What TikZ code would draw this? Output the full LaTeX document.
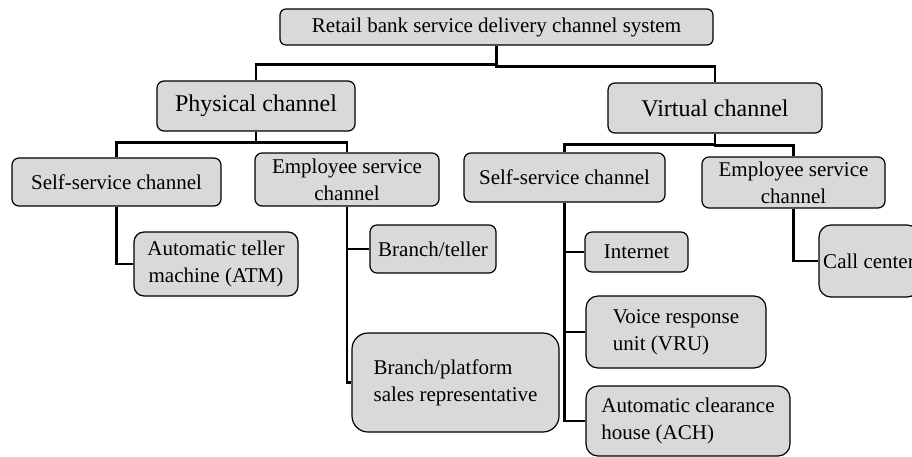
\documentclass[tikz,border=0pt]{standalone}
\usepackage{fontspec}
\setmainfont{Liberation Serif}
\usepackage{xcolor}
\usepackage{tikz}
\usetikzlibrary{positioning}

\definecolor{boxgray}{HTML}{D9D9D9}

\begin{document}
\begin{tikzpicture}[x=1pt,y=-1pt,
    every node/.style={draw=black,fill=boxgray,line width=1.2pt,rounded corners=7pt,
      inner sep=0pt,font=\fontsize{21}{27}\selectfont,align=center},
    box/.style 2 args={minimum width=#1pt,minimum height=#2pt},
    lbox/.style={align=left},
    link/.style={line width=2.6pt}]
    \useasboundingbox (0,0) rectangle (912,456);
    \clip (0,0) rectangle (912,456);
    % top levels
    \node[box={433}{36},rounded corners=6pt] (root) at (496.5,27) {Retail bank service delivery channel system};
    \node[box={198}{50},font=\fontsize{24}{28}\selectfont] (phys) at (256,106) {Physical channel};
    \node[box={214}{50},font=\fontsize{24}{28}\selectfont] (virt) at (715,108) {Virtual channel};
    % physical side
    \node[box={209}{48}] (pself) at (116.5,182) {Self-service channel};
    \node[box={184}{53}] (pemp) at (347,179.5) {Employee service\\channel};
    \node[box={164}{64},rounded corners=10pt] (atm) at (216,264) {Automatic teller\\machine (ATM)};
    \node[box={126}{48}] (teller) at (433,249) {Branch/teller};
    \node[box={207}{99},rounded corners=16pt,lbox] (platform) at (455.5,382.5) {Branch/platform\\sales representative};
    % virtual side
    \node[box={201}{49}] (vself) at (564.5,177.5) {Self-service channel};
    \node[box={183}{51}] (vemp) at (793.5,182.5) {Employee service\\channel};
    \node[box={103}{40}] (inet) at (636.5,252) {Internet};
    \node[box={180}{72},rounded corners=12pt,lbox] (vru) at (676,332) {Voice response\\unit (VRU)};
    \node[box={204}{70},rounded corners=12pt,lbox] (ach) at (688,421) {Automatic clearance\\house (ACH)};
    \node[box={100}{72},rounded corners=12pt] (call) at (869,261) {Call center};
    % connectors
    \draw[link] (root.south) -- ++(0,19) -| (phys.north);
    \draw[link] (root.south) -- ++(0,21) -| (virt.north);
    \draw[link] (phys.south) -- ++(0,11) -| (pself.north);
    \draw[link] (phys.south) -- ++(0,11) -| (pemp.north);
    \draw[link] (virt.south) -- ++(0,11) -| (vself.north);
    \draw[link] (virt.south) -- ++(0,12) -| (vemp.north);
    \draw[link] (pself.south) |- (atm.west);
    \draw[link] (pemp.south) |- (teller.west);
    \draw[link] (pemp.south) |- (platform.west);
    \draw[link] (vself.south) |- (inet.west);
    \draw[link] (vself.south) |- (vru.west);
    \draw[link] (vself.south) |- (ach.west);
    \draw[link] (vemp.south) |- (call.west);
  \end{tikzpicture}
\end{document}
